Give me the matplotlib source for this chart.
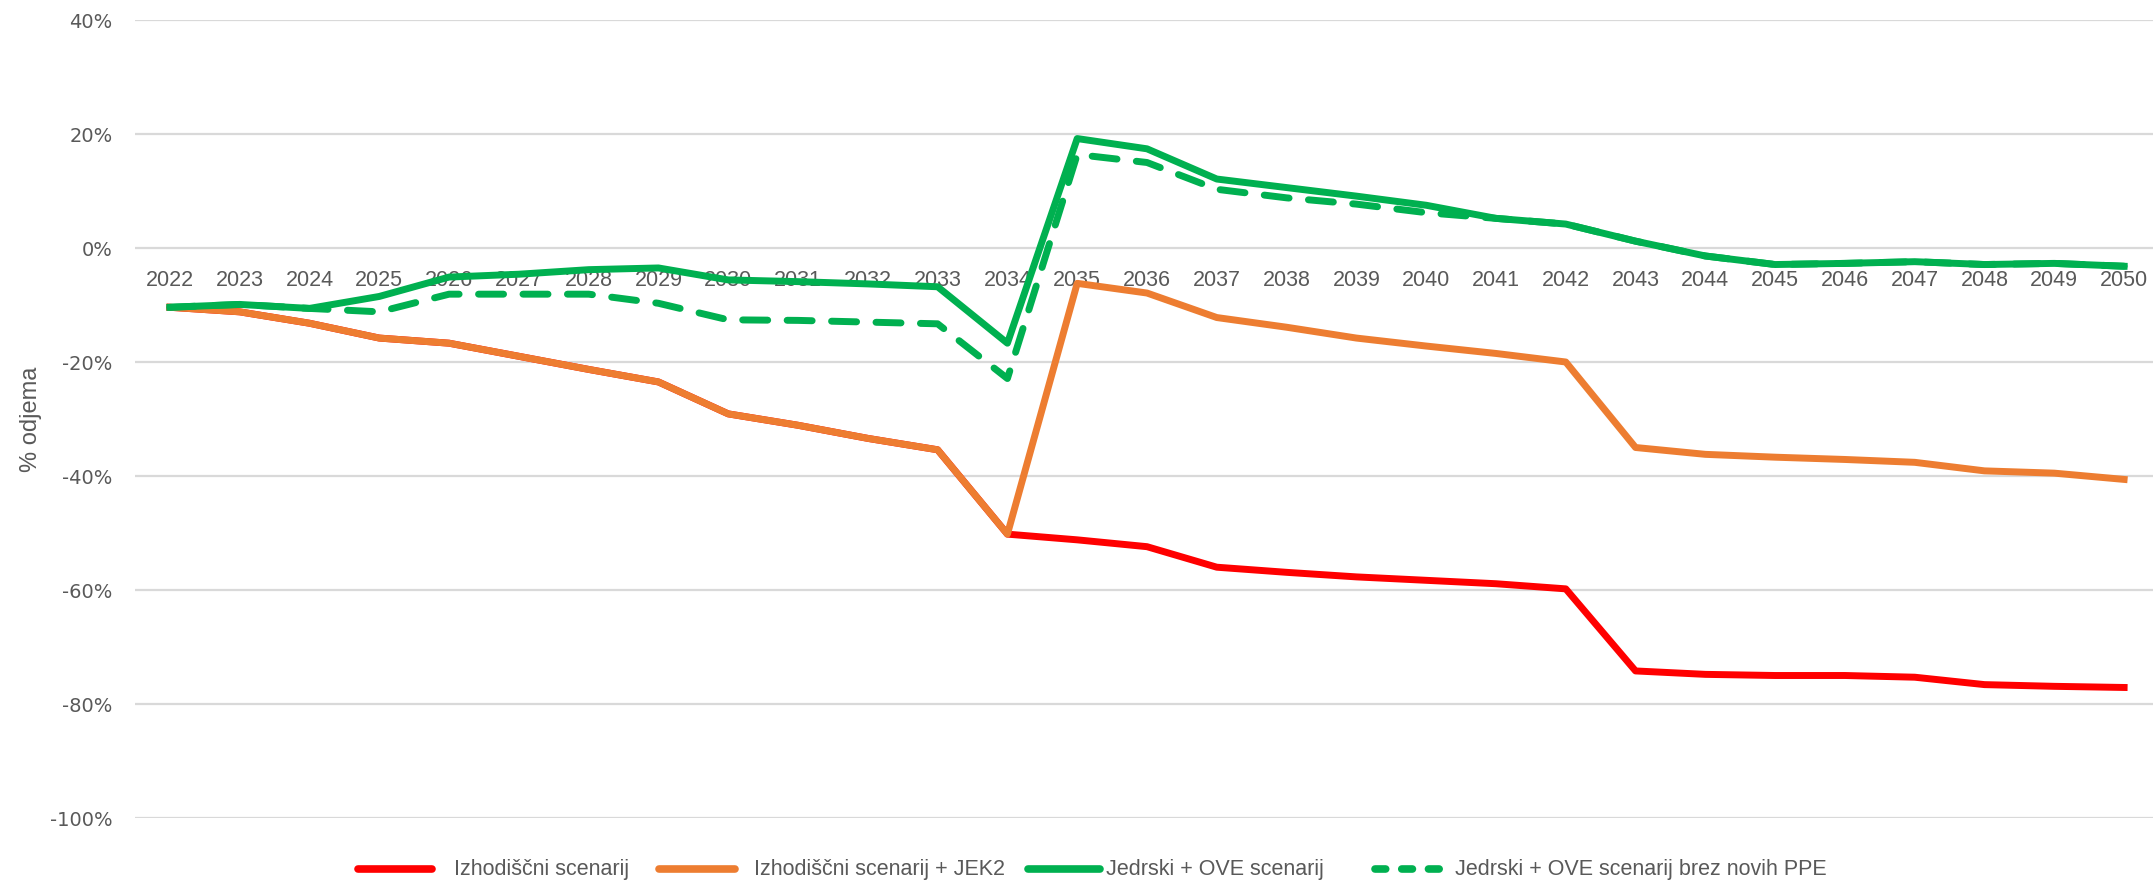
import matplotlib
matplotlib.use("Agg")
import matplotlib.pyplot as plt
from matplotlib.lines import Line2D
from matplotlib.ticker import PercentFormatter, MultipleLocator

plt.rcParams['axes.unicode_minus'] = False

# data (% odjema)
years = list(range(2022, 2051))

izhodiscni = [-10.4, -11.2, -13.2, -15.8, -16.7, -19.0, -21.3, -23.5, -29.1, -31.1,
              -33.4, -35.4, -50.2, -51.2, -52.4, -56.0, -56.9, -57.7, -58.3, -58.9,
              -59.8, -74.2, -74.8, -75.0, -75.0, -75.3, -76.6, -76.9, -77.1]
izhodiscni_jek2 = [-10.4, -11.2, -13.2, -15.8, -16.7, -19.0, -21.3, -23.5, -29.1, -31.1,
                   -33.4, -35.4, -50.2, -6.2, -7.9, -12.2, -13.9, -15.8, -17.2, -18.5,
                   -20.0, -35.0, -36.2, -36.7, -37.1, -37.6, -39.1, -39.5, -40.6]
jedrski_ove = [-10.4, -9.9, -10.6, -8.5, -5.1, -4.6, -3.8, -3.5, -5.6, -5.9,
               -6.3, -6.8, -16.7, 19.2, 17.4, 12.1, 10.6, 9.1, 7.5, 5.2,
               4.2, 1.2, -1.4, -2.9, -2.7, -2.4, -2.9, -2.7, -3.2]
jedrski_ove_brez = [-10.4, -9.9, -10.6, -11.2, -8.1, -8.1, -8.1, -9.7, -12.6, -12.7,
                    -13.0, -13.3, -22.9, 16.4, 15.0, 10.3, 8.8, 7.7, 6.2, 5.2,
                    4.2, 1.2, -1.4, -2.9, -2.7, -2.4, -2.9, -2.7, -3.2]

labels = ['Izhodiščni scenarij', 'Izhodiščni scenarij + JEK2',
          'Jedrski + OVE scenarij', 'Jedrski + OVE scenarij brez novih PPE']

RED = '#FF0000'
ORANGE = '#ED7D31'
GREEN = '#00B050'
GRID = '#D9D9D9'
TEXT = '#595959'
NARROW = ['DejaVu Sans Condensed', 'Liberation Sans Narrow', 'Liberation Sans']

W, H = 2153, 882
fig = plt.figure(figsize=(W / 100, H / 100), dpi=100, facecolor='white')
ax = fig.add_axes([135 / W, 64 / H, 2024 / W, 798 / H])

x = list(range(len(years)))
lw = 5
ax.plot(x, izhodiscni, color=RED, lw=lw, solid_joinstyle='round', zorder=3)
ax.plot(x, izhodiscni_jek2, color=ORANGE, lw=lw, solid_joinstyle='round', zorder=4)
ax.plot(x, jedrski_ove, color=GREEN, lw=lw, solid_joinstyle='round', zorder=5)
ax.plot(x, jedrski_ove_brez, color=GREEN, lw=lw, dashes=(3.6, 2.8),
        dash_capstyle='round', dash_joinstyle='round', zorder=6)

ax.set_xlim(-0.5, len(years) - 0.5)
ax.set_ylim(-100, 40)
ax.yaxis.set_major_locator(MultipleLocator(20))
ax.yaxis.set_major_formatter(PercentFormatter(decimals=0))
ax.grid(axis='y', color=GRID, lw=1.6)
ax.set_axisbelow(True)
for s in ['top', 'right', 'left']:
    ax.spines[s].set_visible(False)
ax.spines['bottom'].set_position(('data', 0))
ax.spines['bottom'].set_visible(False)

ax.set_xticks(x)
ax.set_xticklabels([str(y) for y in years], family='Liberation Sans',
                   fontsize=15.5, color=TEXT)
ax.tick_params(axis='x', length=0, pad=16)
ax.tick_params(axis='y', length=0, pad=16, labelsize=14, labelcolor=TEXT)

ax.set_ylabel('% odjema', family=NARROW, fontsize=17, color=TEXT)
ax.yaxis.set_label_coords((42 - 135) / 2024, 0.5)

# legend drawn along the bottom edge
ly = 1 - 869 / H
entries = [
    (358, 432, 454, RED, None),
    (659, 735, 754, ORANGE, None),
    (1028, 1100, 1106, GREEN, None),
    (1375, 1445, 1455, GREEN, (1.4, 2.1)),
]
for (x0, x1, tx, col, dash), lab in zip(entries, labels):
    ln = Line2D([x0 / W, x1 / W], [ly, ly], transform=fig.transFigure,
                color=col, lw=5.5, solid_capstyle='round', dash_capstyle='round')
    if dash:
        ln.set_dashes(dash)
    fig.add_artist(ln)
    fig.text(tx / W, ly, lab, family=NARROW, fontsize=15.5, color=TEXT,
             ha='left', va='center')

fig.savefig('out.png', dpi=100, facecolor='white')
